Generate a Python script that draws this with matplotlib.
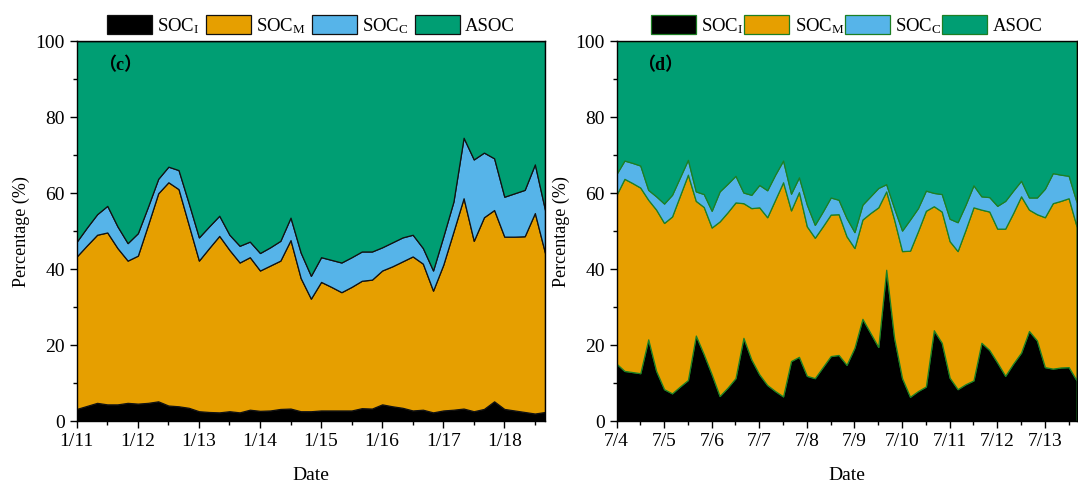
import numpy as np
import matplotlib
matplotlib.use("Agg")
import matplotlib.pyplot as plt
from matplotlib.ticker import MultipleLocator

plt.rcParams["font.family"] = ["Liberation Serif", "Noto Sans CJK SC", "DejaVu Sans"]
plt.rcParams["mathtext.fontset"] = "custom"
plt.rcParams["mathtext.rm"] = "Liberation Serif"
plt.rcParams["mathtext.it"] = "Liberation Serif:italic"

# (c) winter campaign, 4-hourly samples starting 1/11 00:00 (%)
soc_i_c = [3.3, 4.1, 4.9, 4.5, 4.5, 4.9, 4.7, 4.9, 5.3, 4.2, 4.0, 3.6, 2.7, 2.5, 2.4, 2.7,
           2.4, 3.1, 2.8, 2.9, 3.3, 3.4, 2.7, 2.7, 2.9, 2.9, 2.9, 2.9, 3.5, 3.4, 4.5, 4.0,
           3.6, 2.9, 3.1, 2.4, 2.9, 3.1, 3.4, 2.7, 3.3, 5.3, 3.3, 2.9, 2.5, 2.1, 2.5]
soc_m_c = [40.1, 42.2, 44.2, 45.2, 41.1, 37.4, 38.9, 46.8, 54.7, 58.7, 57.1, 48.1, 39.6, 43.1,
           46.4, 42.4, 39.4, 40.1, 36.9, 38.1, 39.0, 44.3, 35.0, 29.6, 33.8, 32.5, 31.1, 32.5,
           33.5, 33.9, 35.2, 36.8, 38.5, 40.5, 38.4, 32.0, 38.3, 46.8, 55.3, 44.8, 50.4, 50.3,
           45.3, 45.7, 46.2, 52.7, 41.8]
soc_c_c = [3.9, 4.7, 5.4, 7.0, 5.7, 4.6, 5.9, 4.8, 3.8, 4.1, 5.0, 5.7, 6.1, 5.7, 5.3, 4.0,
           4.4, 4.1, 4.6, 4.8, 5.2, 5.9, 6.7, 6.0, 6.5, 7.1, 7.8, 7.8, 7.7, 7.4, 6.1, 6.3,
           6.3, 5.7, 4.1, 5.3, 7.4, 7.9, 15.9, 21.4, 17.0, 13.6, 10.5, 11.4, 12.2, 12.8, 11.3]
asoc_c = [52.7, 49.0, 45.5, 43.3, 48.7, 53.1, 50.5, 43.5, 36.2, 33.0, 33.9, 42.6, 51.6, 48.7,
          45.9, 50.9, 53.8, 52.7, 55.7, 54.2, 52.5, 46.4, 55.6, 61.7, 56.8, 57.5, 58.2, 56.8,
          55.3, 55.3, 54.2, 52.9, 51.6, 50.9, 54.4, 60.3, 51.4, 42.2, 25.4, 31.1, 29.3, 30.8,
          40.9, 40.0, 39.1, 32.4, 44.4]
ticks_c = ["1/11", "1/12", "1/13", "1/14", "1/15", "1/16", "1/17", "1/18"]

# (d) summer campaign, 4-hourly samples starting 7/4 00:00 (%)
soc_i_d = [15.2, 13.3, 13.0, 12.7, 21.6, 13.3, 8.5, 7.4, 9.2, 10.9, 22.6, 17.7, 12.4, 6.7,
           8.9, 11.4, 22.0, 16.3, 12.4, 9.6, 8.0, 6.6, 15.9, 17.0, 12.0, 11.4, 14.3, 17.2,
           17.5, 14.9, 19.4, 27.0, 23.3, 19.6, 39.9, 22.0, 11.4, 6.5, 8.0, 9.2, 24.0, 20.7,
           11.5, 8.5, 9.8, 10.8, 20.7, 18.8, 15.5, 12.0, 15.2, 18.1, 23.8, 21.3, 14.3, 13.9,
           14.2, 14.3, 10.8]
soc_m_d = [44.4, 50.5, 49.7, 48.8, 36.7, 42.4, 43.7, 46.5, 50.2, 54.0, 35.4, 38.7, 38.6, 45.9,
           46.1, 46.2, 35.4, 39.8, 43.9, 44.1, 50.3, 56.3, 39.6, 43.3, 39.3, 36.9, 37.0, 37.2,
           37.0, 33.8, 26.2, 26.1, 31.5, 36.7, 20.6, 31.1, 33.4, 38.4, 42.0, 46.2, 32.6, 34.5,
           35.9, 36.3, 40.6, 45.5, 35.0, 36.4, 35.2, 38.7, 39.6, 41.1, 31.9, 33.2, 39.4, 43.5,
           43.8, 44.4, 40.5]
soc_c_d = [5.5, 4.8, 5.3, 5.8, 2.6, 3.5, 5.1, 5.7, 4.8, 3.9, 2.5, 3.4, 4.4, 7.9, 7.5, 7.0,
           2.8, 3.5, 5.9, 7.1, 6.6, 5.7, 4.4, 3.9, 5.7, 3.4, 3.9, 4.5, 3.8, 4.8, 4.2, 3.9,
           4.4, 5.1, 1.9, 3.0, 5.4, 8.2, 6.1, 5.3, 3.5, 4.6, 5.9, 7.6, 6.6, 5.8, 3.5, 3.8,
           6.0, 7.3, 5.9, 4.1, 3.2, 4.4, 7.5, 7.9, 6.9, 5.9, 6.4]
asoc_d = [34.9, 31.4, 32.0, 32.7, 39.1, 40.8, 42.7, 40.4, 35.8, 31.2, 39.5, 40.2, 44.6, 39.5,
          37.5, 35.4, 39.8, 40.4, 37.8, 39.2, 35.1, 31.4, 40.1, 35.8, 43.0, 48.3, 44.8, 41.1,
          41.7, 46.5, 50.2, 43.0, 40.8, 38.6, 37.6, 43.9, 49.8, 46.9, 43.9, 39.3, 39.9, 40.2,
          46.7, 47.6, 43.0, 37.9, 40.8, 41.0, 43.3, 42.0, 39.3, 36.7, 41.1, 41.1, 38.8, 34.7,
          35.1, 35.4, 42.3]
ticks_d = ["7/4", "7/5", "7/6", "7/7", "7/8", "7/9", "7/10", "7/11", "7/12", "7/13"]

labels = ["SOC$_\\mathrm{I}$", "SOC$_\\mathrm{M}$", "SOC$_\\mathrm{C}$", "ASOC"]
colors = ["#000000", "#E69F00", "#56B4E9", "#009E73"]

fig = plt.figure(figsize=(10.78, 4.87), dpi=100)
ax1 = fig.add_axes([0.0712, 0.1345, 0.4344, 0.781])
ax2 = fig.add_axes([0.5719, 0.1345, 0.4268, 0.781])

panels = [
    (ax1, [soc_i_c, soc_m_c, soc_c_c, asoc_c], ticks_c, "（c）", "#111111", 0.3),
    (ax2, [soc_i_d, soc_m_d, soc_c_d, asoc_d], ticks_d, "（d）", "#1d7f24", 0.0),
]

for ax, series, ticklabels, tag, edge, colsp in panels:
    days = np.arange(len(series[0])) * 4 / 24.0
    ax.stackplot(days, *series, labels=labels, colors=colors,
                 edgecolor=edge, linewidth=0.9)

    ax.set_xlim(0, days[-1])
    ax.set_ylim(0, 100)
    ax.set_xticks(range(len(ticklabels)))
    ax.set_xticklabels(ticklabels)
    ax.xaxis.set_minor_locator(MultipleLocator(0.5))
    ax.yaxis.set_major_locator(MultipleLocator(20))
    ax.yaxis.set_minor_locator(MultipleLocator(10))
    ax.tick_params(which="major", direction="out", length=5, width=1, labelsize=14)
    ax.tick_params(which="minor", direction="out", length=3, width=1)
    for sp in ax.spines.values():
        sp.set_linewidth(1.0)

    ax.set_xlabel("Date", fontsize=14, labelpad=12)
    ax.set_ylabel("Percentage (%)", fontsize=13, labelpad=4)
    ax.text(0.045, 0.935, tag, transform=ax.transAxes, fontsize=13,
            fontweight="bold", va="center", ha="left")

    ax.legend(loc="lower center", bbox_to_anchor=(0.5, 1.0), ncol=4, frameon=False,
              fontsize=13.5, handlelength=2.4, handleheight=1.17, handletextpad=0.3,
              columnspacing=colsp, borderaxespad=0.1, borderpad=0.2)

fig.savefig("out.png", dpi=100)
